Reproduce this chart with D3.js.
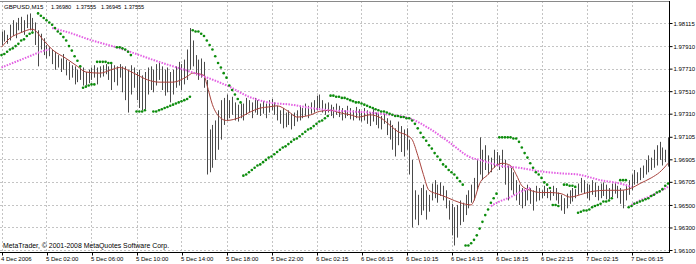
<!DOCTYPE html>
<html>
<head>
<meta charset="utf-8">
<script src="https://cdn.jsdelivr.net/npm/d3@7"></script>
<style>
  body { margin: 0; background: #fff; }
  svg text { font-family: "Liberation Sans", Arial, sans-serif; fill: #000; }
</style>
</head>
<body>
<svg id="chart" width="696" height="264"></svg>
<script>
// ---- data ----
var headerText = ["GBPUSD,M15", "1.36980", "1.37555", "1.36945", "1.37555"];
var footerText = "MetaTrader, \u00a9 2001-2008 MetaQuotes Software Corp.";

var timeLabels = ["4 Dec 2006", "5 Dec 02:00", "5 Dec 06:00", "5 Dec 10:00", "5 Dec 14:00",
  "5 Dec 18:00", "5 Dec 22:00", "6 Dec 02:15", "6 Dec 06:15", "6 Dec 10:15",
  "6 Dec 14:15", "6 Dec 18:15", "6 Dec 22:15", "7 Dec 02:15", "7 Dec 06:15"];
var timeLabelBars = [0, 16, 32, 48, 64, 80, 96, 112, 128, 144, 160, 176, 192, 208, 224];

var priceTicks = [1.98115, 1.97910, 1.97710, 1.97510, 1.97310, 1.97105,
  1.96905, 1.96705, 1.96500, 1.96300, 1.96100];

// M15 bars, high and low
var highs = [
  1.9804,1.9805,1.9801,1.9810,1.9814,1.9812,1.9816,1.9817,1.9814,1.9819,
  1.9820,1.9816,1.9812,1.9805,1.9802,1.9798,1.9792,1.9790,1.9788,1.9786,
  1.9783,1.9780,1.9784,1.9779,1.9777,1.9774,1.9773,1.9770,1.9772,1.9772,
  1.9768,1.9770,1.9772,1.9774,1.9772,1.9773,1.9774,1.9775,1.9773,1.9775,
  1.9774,1.9773,1.9775,1.9773,1.9773,1.9770,1.9774,1.9772,1.9768,1.9770,
  1.9765,1.9768,1.9772,1.9773,1.9770,1.9775,1.9777,1.9773,1.9770,1.9772,
  1.9768,1.9770,1.9773,1.9777,1.9775,1.9779,1.9788,1.9807,1.9796,1.9783,
  1.9779,1.9780,1.9777,1.9761,1.9717,1.9721,1.9725,1.9734,1.9743,1.9745,
  1.9748,1.9743,1.9746,1.9741,1.9739,1.9740,1.9740,1.9745,1.9743,1.9741,
  1.9745,1.9743,1.9740,1.9742,1.9740,1.9743,1.9744,1.9741,1.9738,1.9734,
  1.9736,1.9732,1.9734,1.9731,1.9732,1.9734,1.9738,1.9736,1.9740,1.9738,
  1.9741,1.9743,1.9747,1.9748,1.9743,1.9740,1.9741,1.9739,1.9737,1.9740,
  1.9738,1.9736,1.9734,1.9738,1.9736,1.9734,1.9737,1.9735,1.9732,1.9736,
  1.9734,1.9732,1.9735,1.9732,1.9731,1.9729,1.9731,1.9727,1.9725,1.9721,
  1.9718,1.9724,1.9720,1.9717,1.9718,1.9708,1.9690,1.9663,1.9659,1.9665,
  1.9668,1.9663,1.9659,1.9669,1.9672,1.9668,1.9670,1.9667,1.9663,1.9654,
  1.9651,1.9648,1.9650,1.9654,1.9652,1.9659,1.9663,1.9668,1.9674,1.9690,
  1.9710,1.9699,1.9703,1.9694,1.9692,1.9699,1.9697,1.9694,1.9699,1.9690,
  1.9685,1.9683,1.9679,1.9672,1.9668,1.9665,1.9663,1.9668,1.9665,1.9663,
  1.9667,1.9665,1.9663,1.9667,1.9665,1.9663,1.9667,1.9665,1.9661,1.9659,
  1.9656,1.9660,1.9663,1.9665,1.9664,1.9669,1.9674,1.9672,1.9669,1.9668,
  1.9672,1.9670,1.9667,1.9669,1.9670,1.9668,1.9665,1.9669,1.9670,1.9667,
  1.9665,1.9663,1.9668,1.9672,1.9677,1.9681,1.9679,1.9683,1.9685,1.9690,
  1.9694,1.9692,1.9699,1.9703,1.9706,1.9701,1.9699,1.9710
];
var lows = [
  1.9792,1.9795,1.9793,1.9796,1.9800,1.9798,1.9805,1.9803,1.9801,1.9807,
  1.9805,1.9804,1.9792,1.9773,1.9788,1.9783,1.9780,1.9782,1.9775,1.9770,
  1.9772,1.9768,1.9770,1.9765,1.9761,1.9763,1.9757,1.9759,1.9761,1.9756,
  1.9756,1.9758,1.9761,1.9763,1.9757,1.9763,1.9764,1.9766,1.9761,1.9752,
  1.9759,1.9756,1.9763,1.9750,1.9743,1.9732,1.9748,1.9754,1.9743,1.9736,
  1.9734,1.9735,1.9748,1.9752,1.9750,1.9756,1.9761,1.9752,1.9747,1.9750,
  1.9741,1.9748,1.9754,1.9756,1.9752,1.9757,1.9761,1.9770,1.9773,1.9765,
  1.9761,1.9763,1.9754,1.9677,1.9679,1.9683,1.9690,1.9699,1.9708,1.9721,
  1.9725,1.9727,1.9730,1.9725,1.9724,1.9727,1.9725,1.9730,1.9732,1.9727,
  1.9732,1.9730,1.9729,1.9731,1.9727,1.9732,1.9734,1.9730,1.9725,1.9722,
  1.9718,1.9719,1.9721,1.9717,1.9720,1.9724,1.9725,1.9727,1.9729,1.9727,
  1.9731,1.9732,1.9734,1.9736,1.9732,1.9730,1.9732,1.9729,1.9727,1.9730,
  1.9728,1.9725,1.9727,1.9729,1.9726,1.9725,1.9727,1.9725,1.9724,1.9725,
  1.9722,1.9720,1.9724,1.9721,1.9718,1.9717,1.9722,1.9712,1.9708,1.9699,
  1.9693,1.9703,1.9697,1.9693,1.9699,1.9677,1.9630,1.9637,1.9632,1.9641,
  1.9645,1.9637,1.9644,1.9654,1.9656,1.9652,1.9658,1.9654,1.9647,1.9637,
  1.9623,1.9614,1.9621,1.9632,1.9635,1.9641,1.9647,1.9652,1.9654,1.9663,
  1.9677,1.9672,1.9681,1.9677,1.9679,1.9683,1.9685,1.9681,1.9683,1.9668,
  1.9654,1.9663,1.9659,1.9654,1.9650,1.9647,1.9649,1.9654,1.9651,1.9645,
  1.9653,1.9654,1.9656,1.9658,1.9656,1.9654,1.9658,1.9654,1.9651,1.9645,
  1.9642,1.9647,1.9651,1.9653,1.9656,1.9659,1.9661,1.9660,1.9656,1.9654,
  1.9659,1.9657,1.9654,1.9656,1.9658,1.9655,1.9655,1.9657,1.9660,1.9656,
  1.9651,1.9647,1.9654,1.9659,1.9663,1.9668,1.9669,1.9672,1.9674,1.9677,
  1.9679,1.9681,1.9683,1.9685,1.9690,1.9685,1.9688,1.9684
];

// Parabolic SAR, one dot per bar (null = no dot)
var sar = [
  1.9783,1.9784,1.9786,1.9788,1.9789,1.9791,1.9793,1.9796,1.9797,1.9800,
  1.9802,1.9803,null,1.9820,1.9818,1.9816,1.9814,1.9812,1.9810,1.9807,
  1.9804,1.9802,1.9799,1.9796,1.9791,1.9787,1.9782,1.9778,1.9773,1.9754,
  1.9755,1.9756,1.9757,1.9757,1.9777,1.9777,1.9777,1.9777,1.9776,1.9776,
  null,1.9790,1.9790,1.9789,1.9788,1.9786,1.9783,null,1.9733,1.9733,
  1.9733,1.9734,null,null,1.9733,1.9733,1.9734,1.9735,1.9736,1.9737,
  1.9738,1.9739,1.9740,1.9741,1.9742,1.9743,1.9744,1.9746,1.9805,1.9804,
  1.9804,1.9802,1.9800,1.9796,1.9792,1.9788,1.9782,1.9776,1.9772,1.9767,
  1.9763,1.9756,1.9752,1.9748,1.9744,1.9741,1.9676,1.9677,1.9679,1.9681,
  1.9683,1.9685,1.9686,1.9688,1.9690,1.9692,1.9693,1.9695,1.9697,1.9699,
  1.9701,1.9702,1.9704,1.9706,1.9708,1.9709,1.9711,1.9713,1.9715,1.9717,
  1.9718,1.9720,1.9722,1.9724,1.9725,1.9727,1.9729,1.9747,1.9747,1.9746,
  1.9746,1.9745,1.9745,1.9744,1.9743,1.9742,1.9741,1.9741,1.9740,1.9739,
  1.9738,1.9737,1.9736,1.9735,1.9734,1.9733,1.9733,1.9732,1.9731,1.9730,
  1.9729,1.9729,1.9728,1.9728,1.9727,1.9727,1.9725,1.9722,1.9718,1.9714,
  1.9710,1.9707,1.9703,1.9700,1.9696,1.9693,1.9690,1.9686,1.9684,1.9681,
  1.9679,1.9677,1.9674,1.9671,1.9668,1.9614,1.9614,1.9616,1.9619,1.9623,
  1.9629,1.9635,1.9641,1.9646,1.9652,1.9656,1.9660,1.9710,1.9710,1.9710,
  1.9710,1.9710,1.9709,1.9709,1.9706,1.9701,1.9696,1.9692,1.9687,1.9683,
  1.9679,1.9677,1.9674,1.9670,1.9668,1.9665,1.9650,1.9650,1.9649,null,
  1.9668,1.9668,1.9667,1.9667,1.9666,1.9643,1.9644,1.9645,1.9645,1.9646,
  1.9648,1.9649,1.9650,1.9651,1.9653,1.9653,1.9654,1.9656,null,null,
  1.9672,1.9672,1.9672,1.9648,1.9649,1.9651,1.9652,1.9653,1.9654,1.9655,
  1.9656,1.9658,1.9659,1.9661,1.9662,1.9664,1.9667,1.9669
];

// brown moving average: [bar, price]
var maFast = [[0,1.9790],[3,1.9798],[7,1.9803],[11,1.9806],[15,1.9796],[18,1.9788],
  [23,1.9780],[27,1.9773],[30,1.9768],[35,1.9767],[39,1.9770],[42,1.9772],[47,1.9767],
  [52,1.9761],[56,1.9759],[61,1.9759],[66,1.9764],[68,1.9767],[72,1.9765],[73,1.9757],
  [75,1.9739],[78,1.9727],[80,1.9725],[85,1.9728],[88,1.9732],[92,1.9736],[95,1.9737],
  [98,1.9738],[102,1.9733],[105,1.9728],[110,1.9730],[113,1.9733],[117,1.9734],
  [120,1.9732],[124,1.9730],[127,1.9728],[131,1.9730],[135,1.9727],[138,1.9721],
  [141,1.9715],[144,1.9712],[146,1.9708],[148,1.9694],[150,1.9677],[152,1.9663],
  [156,1.9659],[159,1.9656],[163,1.9652],[167,1.9650],[168,1.9654],[170,1.9669],
  [173,1.9677],[175,1.9683],[178,1.9687],[181,1.9685],[183,1.9677],[185,1.9667],
  [188,1.9663],[192,1.9661],[195,1.9661],[199,1.9660],[202,1.9657],[207,1.9660],
  [210,1.9662],[215,1.9663],[220,1.9663],[224,1.9665],[227,1.9669],[231,1.9674],
  [234,1.9679],[237,1.9687]];

// violet dotted lines: [bar, price], null breaks the line
var maSlow = [[18,1.9807],[24,1.9803],[31,1.9797],[42,1.9789],[56,1.9777],[71,1.9765],
  [81,1.9755],[88,1.9746],[95,1.9741],[103,1.9739],[110,1.9736],[117,1.9734],
  [124,1.9733],[131,1.9732],[138,1.9730],[145,1.9727],[152,1.9718],[159,1.9706],
  [167,1.9692],[170,1.9690],[177,1.9685],[184,1.9683],[191,1.9680],[199,1.9678],
  [205,1.9677],[213,1.9672],[220,1.9669],[224,1.9666]];
var maSlow2 = [[0,1.9772],[3,1.9775],[7,1.9779],[10,1.9782],[14,1.9786],[17,1.9788],
  null,
  [174,1.9649],[177,1.9653],[181,1.9657],[184,1.9661],[188,1.9665],
  null,
  [224,1.9650],[227,1.9654],[231,1.9658],[234,1.9662],[237,1.9666]];

// ---- layout ----
var plotRight = 669, plotTop = 1, plotBottom = 252;
var barStep = 2.8125;

var svg = d3.select("#chart");
svg.append("rect").attr("width", 696).attr("height", 264).attr("fill", "#fff");

var x = d3.scaleLinear()
  .domain([0, highs.length - 1])
  .range([1.5, 1.5 + barStep * (highs.length - 1)]);
var y = d3.scaleLinear()
  .domain([1.96100, 1.98115])
  .range([250, 23]);

svg.append("clipPath").attr("id", "plotClip")
  .append("rect").attr("x", 0).attr("y", plotTop).attr("width", plotRight).attr("height", plotBottom - plotTop);

//grid lines
var grid = svg.append("g")
  .attr("stroke", "#c4c4c4")
  .attr("stroke-dasharray", "2,2")
  .attr("shape-rendering", "crispEdges");
grid.selectAll("line.h").data(priceTicks).enter().append("line")
  .attr("class", "h")
  .attr("x1", 0).attr("x2", plotRight)
  .attr("y1", function(d) { return Math.round(y(d)) + 0.5; })
  .attr("y2", function(d) { return Math.round(y(d)) + 0.5; });
grid.selectAll("line.v").data(timeLabelBars).enter().append("line")
  .attr("class", "v")
  .attr("x1", function(d) { return Math.round(x(d)) + 0.5; })
  .attr("x2", function(d) { return Math.round(x(d)) + 0.5; })
  .attr("y1", plotTop).attr("y2", plotBottom);

var plot = svg.append("g").attr("clip-path", "url(#plotClip)");

//bars, snapped to whole pixel columns
plot.append("g").selectAll("line").data(highs).enter().append("line")
  .attr("x1", function(d, i) { return Math.round(x(i)) + 0.5; })
  .attr("x2", function(d, i) { return Math.round(x(i)) + 0.5; })
  .attr("y1", function(d) { return y(d); })
  .attr("y2", function(d, i) { return y(lows[i]); })
  .attr("stroke", "#4a4a4a")
  .attr("stroke-width", 1);

//moving averages
var line = d3.line()
  .defined(function(d) { return d != null; })
  .x(function(d) { return x(d[0]); })
  .y(function(d) { return y(d[1]); })
  .curve(d3.curveMonotoneX);

plot.append("path").datum(maFast)
  .attr("d", line)
  .attr("fill", "none")
  .attr("stroke", "#a8423c")
  .attr("stroke-width", 1);

[maSlow, maSlow2].forEach(function(s) {
  plot.append("path").datum(s)
    .attr("d", line)
    .attr("fill", "none")
    .attr("stroke", "#e35fe3")
    .attr("stroke-width", 2)
    .attr("stroke-dasharray", "1.5,1.3");
});

//parabolic sar
plot.append("g").selectAll("circle")
  .data(sar.map(function(v, i) { return [i, v]; }).filter(function(d) { return d[1] != null; }))
  .enter().append("circle")
  .attr("cx", function(d) { return x(d[0]); })
  .attr("cy", function(d) { return y(d[1]); })
  .attr("r", 1.3)
  .attr("fill", "#0c8c0c");

//frame
svg.append("line").attr("x1", 0).attr("x2", plotRight).attr("y1", 1.5).attr("y2", 1.5)
  .attr("stroke", "#8a8a8a");
svg.append("line").attr("x1", plotRight + 0.5).attr("x2", plotRight + 0.5).attr("y1", 1).attr("y2", plotBottom + 1)
  .attr("stroke", "#000");
svg.append("line").attr("x1", 0).attr("x2", plotRight + 1).attr("y1", plotBottom + 0.5).attr("y2", plotBottom + 0.5)
  .attr("stroke", "#000");

//price axis
var axisPrice = d3.axisRight(y)
  .tickValues(priceTicks)
  .tickFormat(d3.format(".5f"))
  .tickSize(3)
  .tickPadding(1);
var gy = svg.append("g")
  .attr("transform", "translate(" + (plotRight + 0.5) + ",0)")
  .call(axisPrice);
gy.select(".domain").remove();
gy.selectAll("text").attr("font-size", 6).attr("font-family", null).attr("dy", "0.35em");

//time axis
var axisTime = d3.axisBottom(x)
  .tickValues(timeLabelBars)
  .tickFormat(function(d, i) { return timeLabels[i]; })
  .tickSize(3);
var gx = svg.append("g")
  .attr("transform", "translate(0," + (plotBottom + 0.5) + ")")
  .call(axisTime);
gx.select(".domain").remove();
gx.selectAll(".tick line").attr("x1", 0.5).attr("x2", 0.5);
gx.selectAll("text")
  .attr("font-size", 6).attr("font-family", null)
  .attr("text-anchor", "start")
  .attr("x", -1).attr("y", 4).attr("dy", "0.71em");

//header and footer
var headerX = [4, 51, 76, 101, 124];
svg.append("g").selectAll("text").data(headerText).enter().append("text")
  .attr("x", function(d, i) { return headerX[i]; })
  .attr("y", 8.5)
  .attr("font-size", function(d, i) { return i == 0 ? 6.1 : 5.6; })
  .text(function(d) { return d; });

svg.append("text")
  .attr("x", 3).attr("y", 248)
  .attr("font-size", 6.9)
  .text(footerText);
</script>
</body>
</html>
